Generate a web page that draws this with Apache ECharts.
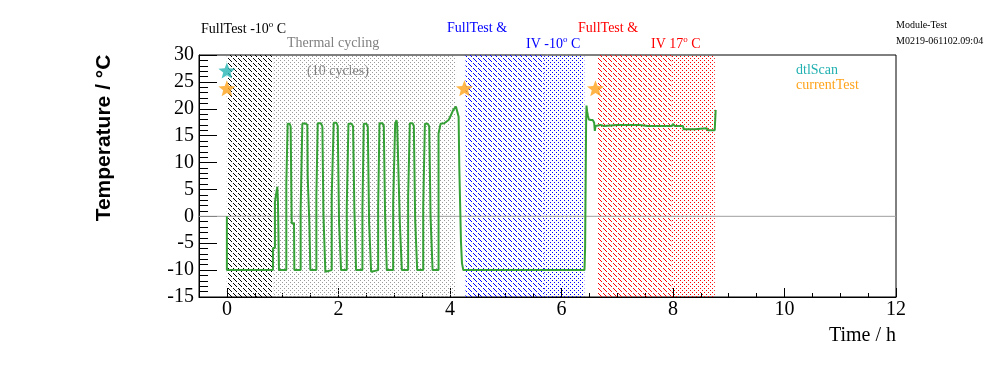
<!DOCTYPE html>
<html>
<head>
<meta charset="utf-8">
<script src="https://cdn.jsdelivr.net/npm/echarts@6/dist/echarts.min.js"></script>
<style>html,body{margin:0;padding:0;background:#fff}#c{width:996px;height:372px}</style>
</head>
<body>
<div id="c"></div>
<script>
// ---- data (hours, °C) ----
const cyclingCurve = [
  [0,0],[0,-10],[0.515,-10],[0.527,-10.3],[0.539,-10],[0.826,-10],[0.826,-5.9],[0.862,-5.9],[0.862,2.7],[0.886,2.7],[0.904,5.5],[0.916,2.7],[0.928,2.7],[0.934,-10],
  [1.066,-10],[1.066,6.1],[1.090,6.1],[1.090,17.2],[1.126,17.2],[1.144,16.7],[1.156,16.7],[1.162,-1.3],[1.204,-1.3],[1.210,-10],[1.234,-10.3],[1.240,-10],
  [1.323,-10],[1.323,1.2],[1.353,1.2],[1.353,17.2],[1.401,17.3],[1.425,17.0],[1.443,17.0],[1.449,7.4],[1.473,7.4],[1.479,-1.3],[1.491,-1.3],[1.497,-10],
  [1.605,-10],[1.605,3.7],[1.629,3.7],[1.629,17.3],[1.689,17.3],[1.713,16.7],[1.725,16.7],[1.731,0.6],[1.760,0.6],[1.766,-10.3],[1.784,-10],
  [1.880,-10],[1.880,3.7],[1.904,3.7],[1.916,17.4],[1.964,17.4],[1.988,16.8],[2.000,16.8],[2.012,-1.3],[2.042,-1.3],[2.048,-10],
  [2.150,-10],[2.150,1.8],[2.174,1.8],[2.180,17.2],[2.240,17.2],[2.263,16.7],[2.275,16.7],[2.287,1.2],[2.311,1.2],[2.317,-10],
  [2.431,-10],[2.431,1.2],[2.449,1.2],[2.455,17.2],[2.503,17.2],[2.527,16.7],[2.539,16.7],[2.551,-1.3],[2.581,-1.3],[2.587,-10.3],[2.611,-10],
  [2.713,-10],[2.713,1.8],[2.731,1.8],[2.737,17.3],[2.790,17.3],[2.814,16.8],[2.826,16.8],[2.838,-0.1],[2.862,-0.1],[2.868,-10],
  [2.982,-10],[2.982,2.4],[3.006,2.4],[3.018,17.2],[3.042,17.9],[3.054,17.0],[3.078,16.7],[3.090,16.7],[3.102,-1.3],[3.132,-1.3],[3.138,-10],
  [3.251,-10],[3.251,3.7],[3.275,3.7],[3.281,17.3],[3.329,17.3],[3.353,16.8],[3.365,16.8],[3.377,-0.7],[3.401,-0.7],[3.413,-10],
  [3.521,-10],[3.521,1.8],[3.545,1.8],[3.551,17.2],[3.605,17.2],[3.629,16.7],[3.641,16.7],[3.653,-0.1],[3.677,-0.1],[3.689,-10],
  [3.796,-10],[3.796,15.4],[3.820,15.4],[3.832,17.2],[3.898,17.3],[3.928,17.6],[3.976,17.9],[4.018,18.8],[4.060,19.8],[4.108,20.4],[4.138,20.7],[4.150,20.7],
  [4.156,18.5],[4.168,9.2],[4.198,-4.7],[4.216,-8.7],[4.240,-10]
];
const coldCurve = [
  [4.886,-10],[4.892,-10.3],[4.898,-10],[5.437,-10],[5.443,-10.3],[5.449,-10],[5.593,-10],[5.599,-10.3],[5.605,-10],[6.413,-10]
];
const warmCurve = [
  [6.425,-5.6],[6.437,-5.6],[6.443,18.0],[6.449,20.6],[6.461,19.5],[6.473,18.8],[6.491,18.0],[6.527,17.9],[6.563,17.9],[6.587,17.4],[6.599,15.9],[6.611,16.8],[6.623,17.0],
  [6.70,17.0],[6.76,16.8],[6.78,17.0],[7.0,17.0],[7.40,17.0],[7.42,16.8],[7.55,16.8],[7.56,16.5],[7.58,16.8],[7.70,16.8],[7.72,16.5],[7.74,16.8],[7.85,16.8],[7.86,16.5],[7.88,16.8],
  [7.98,16.8],[8.00,17.2],[8.03,16.8],[8.18,16.8],[8.192,16.2],[8.39,16.2],[8.407,16.4],[8.60,16.4],[8.629,16.0],[8.749,16.0],[8.766,19.8]
];
const dtlScanPoints = [[0, 27.1]];
const currentTestPoints = [[0, 23.8], [4.26, 23.8], [6.61, 23.8]];

const bandStart = [0, 0.83, 4.28, 5.69, 6.64, 7.97];
const bandEnd   = [0.83, 4.11, 5.69, 6.41, 7.97, 8.75];
const bandKind  = ['hatchBlack', 'dotGrey', 'hatchBlue', 'dotBlue', 'hatchRed', 'dotRed'];

const xMajorTicks = [0, 2, 4, 6, 8, 10, 12];

// ---- patterns ----
function pattern(color, size, cells) {
  const c = document.createElement('canvas');
  c.width = size; c.height = size;
  const g = c.getContext('2d');
  g.fillStyle = color;
  cells.forEach(([x, y]) => g.fillRect(x, y, 1, 1));
  return { image: c, repeat: 'repeat' };
}
const hatchCells = [[0,0],[1,1],[3,3],[4,4]];
const dotCells = [[0,0],[2,2]];
const sparseDotCells = [[0,0],[2,2]];
const patterns = {
  hatchBlack: pattern('#000000', 5, hatchCells),
  dotGrey: pattern('#9a9a9a', 4, sparseDotCells),
  hatchBlue: pattern('#0000ff', 5, hatchCells),
  dotBlue: pattern('#0000ff', 4, dotCells),
  hatchRed: pattern('#ff0000', 5, hatchCells),
  dotRed: pattern('#ff0000', 4, dotCells)
};

const star = 'path://M50,0 L62.3,31.3 L97.55,34.55 L70.6,55.9 L79.39,90.45 L50,72 L20.61,90.45 L29.4,55.9 L2.45,34.55 L37.7,31.3 Z';
const serif = '"Liberation Serif", "Times New Roman", serif';

const chart = echarts.init(document.getElementById('c'), null, { renderer: 'canvas' });

const areaData = bandStart.map((s, i) => [
  { xAxis: s, itemStyle: { color: patterns[bandKind[i]] } },
  { xAxis: bandEnd[i] }
]);

function label(x, y, text, color, size, rich) {
  return {
    type: 'text', x: x, y: y, silent: true,
    style: {
      text: text, fill: color, font: size + 'px ' + serif,
      textAlign: 'left', textVerticalAlign: 'middle',
      rich: rich
    }
  };
}
const supRich = {
  n: { fontSize: 14, fontFamily: serif, lineHeight: 16, verticalAlign: 'bottom' },
  s: { fontSize: 9, fontFamily: serif, lineHeight: 16, verticalAlign: 'top' }
};
function richLabel(x, y, text, color) {
  const r = {};
  Object.keys(supRich).forEach(k => r[k] = Object.assign({ color: color }, supRich[k]));
  return label(x, y, text, color, 14, r);
}

chart.setOption({
  animation: false,
  backgroundColor: '#fff',
  grid: { left: 199, right: 100, top: 55, bottom: 75, show: true, borderColor: '#000', borderWidth: 1, backgroundColor: 'transparent' },
  xAxis: [
    {
      type: 'value', min: -0.5, max: 12, interval: 0.5,
      axisLine: { show: true, onZero: false, lineStyle: { color: '#000', width: 1 } },
      axisTick: { show: true, inside: true, length: 4, lineStyle: { color: '#000' } },
      axisLabel: {
        color: '#000', fontFamily: serif, fontSize: 20, margin: 3,
        formatter: v => (v >= 0 && Math.abs(v % 2) < 1e-9) ? String(v) : ''
      },
      splitLine: { show: false }
    },
    {
      type: 'value', min: -0.5, max: 12, interval: 0.5, position: 'bottom',
      axisLine: { show: false, onZero: false },
      axisTick: { show: true, inside: true, length: 9, customValues: xMajorTicks, lineStyle: { color: '#000' } },
      axisLabel: { show: false },
      splitLine: { show: false }
    }
  ],
  yAxis: {
    type: 'value', min: -15, max: 30, interval: 5,
    axisLine: { show: true, onZero: false, lineStyle: { color: '#000', width: 1 } },
    axisTick: { show: true, inside: true, length: 18, lineStyle: { color: '#000' } },
    minorTick: { show: true, splitNumber: 5, length: 9, lineStyle: { color: '#000' } },
    axisLabel: { color: '#000', fontFamily: serif, fontSize: 20, margin: 5 },
    splitLine: { show: false }
  },
  series: [
    {
      name: 'bands', type: 'line', data: [], silent: true, z: 1,
      markArea: { silent: true, label: { show: false }, data: areaData }
    },
    {
      name: 'zero', type: 'line', data: [[-0.5, 0], [12, 0]], z: 1.5, silent: true,
      symbol: 'none', lineStyle: { color: '#a0a0a0', width: 1 }
    },
    {
      name: 'temperature', type: 'line', z: 2, silent: true,
      data: cyclingCurve.concat(coldCurve, warmCurve),
      symbol: 'none', lineStyle: { color: '#35a035', width: 2 }
    },
    {
      name: 'dtlScan', type: 'scatter', z: 3, data: dtlScanPoints,
      symbol: star, symbolSize: [17, 16], symbolKeepAspect: false, itemStyle: { color: '#27b5b5' }
    },
    {
      name: 'currentTest', type: 'scatter', z: 3, data: currentTestPoints,
      symbol: star, symbolSize: [17, 16], symbolKeepAspect: false, itemStyle: { color: '#ffa31a' }
    }
  ],
  graphic: [
    richLabel(201, 28, '{n|FullTest -10}{s|o}{n| C}', '#000'),
    label(287, 43, 'Thermal cycling', '#808080', 14),
    label(307, 71, '(10 cycles)', '#808080', 14),
    label(447, 28, 'FullTest &', '#0000ff', 14),
    richLabel(526, 43, '{n|IV -10}{s|o}{n| C}', '#0000ff'),
    label(578, 28, 'FullTest &', '#ff0000', 14),
    richLabel(651, 43, '{n|IV 17}{s|o}{n| C}', '#ff0000'),
    label(896, 25, 'Module-Test', '#000', 10),
    label(896, 41, 'M0219-061102.09:04', '#000', 10),
    label(796, 70, 'dtlScan', '#22b0b0', 14),
    label(796, 85, 'currentTest', '#ffa31a', 14),
    {
      type: 'text', x: 104, y: 138, rotation: Math.PI / 2, silent: true,
      style: { text: 'Temperature / °C', fill: '#000', font: 'bold 21px "Liberation Sans", Arial, sans-serif', textAlign: 'center', textVerticalAlign: 'middle' }
    },
    {
      type: 'text', x: 896, y: 336, silent: true,
      style: { text: 'Time / h', fill: '#000', font: '20px ' + serif, textAlign: 'right', textVerticalAlign: 'middle' }
    }
  ]
});
</script>
</body>
</html>
